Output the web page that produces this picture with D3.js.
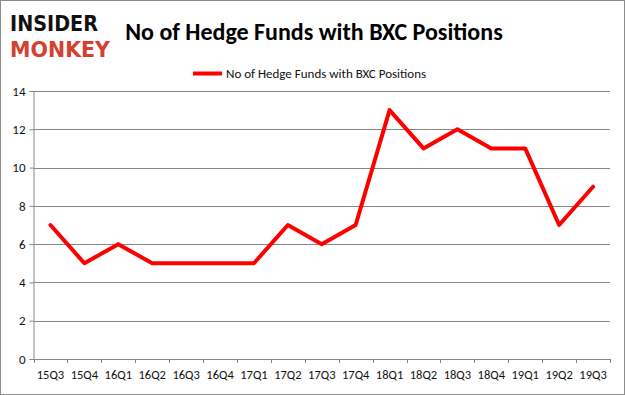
<!DOCTYPE html>
<html>
<head>
<meta charset="utf-8">
<script src="https://cdn.jsdelivr.net/npm/d3@7"></script>
<style>
  html, body { margin: 0; padding: 0; background: #fff; }
  svg { display: block; }
</style>
</head>
<body>
<div id="chart"></div>
<script>
const quarters = ['15Q3','15Q4','16Q1','16Q2','16Q3','16Q4','17Q1','17Q2','17Q3','17Q4',
                  '18Q1','18Q2','18Q3','18Q4','19Q1','19Q2','19Q3'];
const funds = [7, 5, 6, 5, 5, 5, 5, 7, 6, 7, 13, 11, 12, 11, 11, 7, 9];
const yTicks = [0, 2, 4, 6, 8, 10, 12, 14];
const seriesName = 'No of Hedge Funds with BXC Positions';
const chartTitle = 'No of Hedge Funds with BXC Positions';

const W = 625, H = 395;
const m = {left: 33.5, right: 15, top: 91, bottom: 36};
const font = 'Carlito, Calibri, "Open Sans", sans-serif';

const svg = d3.select('#chart').append('svg')
  .attr('width', W).attr('height', H);

// outer frame
svg.append('rect')
  .attr('x', 0.5).attr('y', 0.5).attr('width', W - 1).attr('height', H - 1)
  .attr('fill', '#fff').attr('stroke', '#8c8c8c').attr('stroke-width', 1);

// logo
const logo = svg.append('g').attr('font-family', 'DejaVu Sans, sans-serif')
  .attr('font-weight', 700);
logo.append('text').attr('x', 10).attr('y', 31).text('INSIDER')
  .attr('font-size', 21).attr('fill', '#111')
  .attr('textLength', 88).attr('lengthAdjust', 'spacingAndGlyphs');
logo.append('text').attr('x', 10).attr('y', 57).text('MONKEY')
  .attr('font-size', 22).attr('fill', '#d4412f')
  .attr('textLength', 100).attr('lengthAdjust', 'spacingAndGlyphs');

// title
svg.append('text')
  .attr('x', 314).attr('y', 40)
  .attr('text-anchor', 'middle')
  .attr('font-family', font)
  .attr('font-weight', 700).attr('font-size', 24).attr('fill', '#000')
  .text(chartTitle);

// legend
svg.append('line')
  .attr('x1', 193).attr('x2', 222).attr('y1', 73.5).attr('y2', 73.5)
  .attr('stroke', '#ff0000').attr('stroke-width', 4);
svg.append('text')
  .attr('x', 226).attr('y', 78)
  .attr('font-family', font)
  .attr('font-size', 13).attr('fill', '#111')
  .text(seriesName);

const x = d3.scaleBand()
  .domain(quarters)
  .range([m.left, W - m.right]);

const y = d3.scaleLinear()
  .domain([0, 14])
  .range([H - m.bottom, m.top]);

// gridlines
svg.append('g')
  .selectAll('line')
  .data(yTicks.filter(d => d > 0))
  .enter().append('line')
  .attr('x1', m.left).attr('x2', W - m.right)
  .attr('y1', d => Math.round(y(d)) + 0.5).attr('y2', d => Math.round(y(d)) + 0.5)
  .attr('stroke', '#868686').attr('stroke-width', 1);

// y axis
const yAxis = svg.append('g')
  .attr('transform', `translate(${m.left},0)`)
  .call(d3.axisLeft(y).tickValues(yTicks).tickSize(4).tickPadding(4));
yAxis.select('.domain').attr('stroke', '#868686');
yAxis.selectAll('.tick line').attr('stroke', '#868686');
yAxis.selectAll('text')
  .attr('font-family', font)
  .attr('font-size', 13).attr('fill', '#111');

// x axis
const xAxis = svg.append('g')
  .attr('transform', `translate(0,${y(0)})`)
  .call(d3.axisBottom(x).tickSize(0).tickPadding(11));
xAxis.select('.domain').attr('stroke', '#868686');
xAxis.selectAll('text')
  .attr('font-family', font)
  .attr('font-size', 12.5).attr('fill', '#111');

// x tick marks at band boundaries
const bounds = quarters.map(q => x(q)).concat([x(quarters[quarters.length - 1]) + x.bandwidth()]);
svg.append('g')
  .selectAll('line')
  .data(bounds)
  .enter().append('line')
  .attr('x1', d => Math.round(d) + 0.5).attr('x2', d => Math.round(d) + 0.5)
  .attr('y1', y(0)).attr('y2', y(0) + 4)
  .attr('stroke', '#868686');

// series line
const line = d3.line()
  .x((d, i) => x(quarters[i]) + x.bandwidth() / 2)
  .y(d => y(d));

svg.append('path')
  .datum(funds)
  .attr('d', line)
  .attr('fill', 'none')
  .attr('stroke', '#ff0000')
  .attr('stroke-width', 4)
  .attr('stroke-linejoin', 'round')
  .attr('stroke-linecap', 'round');
</script>
</body>
</html>
